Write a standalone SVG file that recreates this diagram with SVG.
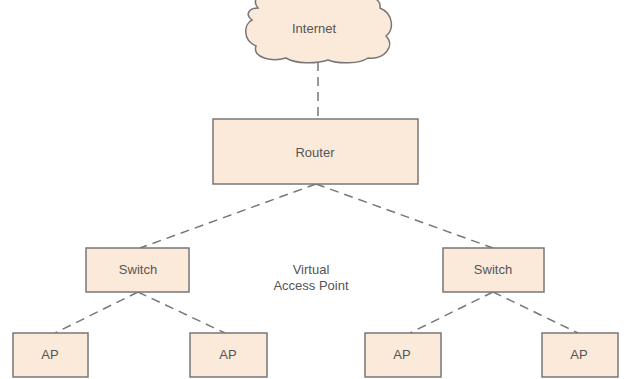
<svg xmlns="http://www.w3.org/2000/svg" width="624" height="379" viewBox="0 0 624 379">
<style>
.box{fill:#fbe9da;stroke:#777;stroke-width:1.5}
.lbl{font-family:"Liberation Sans",Arial,sans-serif;font-size:13px;fill:#555;text-anchor:middle}
.conn{stroke:#777;stroke-width:1.5;stroke-dasharray:9,6;fill:none}
</style>
<rect width="624" height="379" fill="#fff"/>
<g id="connectors">
<line class="conn" x1="318" y1="62" x2="318" y2="119"/>
<line class="conn" x1="316" y1="184" x2="140" y2="248"/>
<line class="conn" x1="316" y1="184" x2="493" y2="248"/>
<line class="conn" x1="138" y1="292" x2="55" y2="333"/>
<line class="conn" x1="138" y1="292" x2="225" y2="333"/>
<line class="conn" x1="493" y1="292" x2="410" y2="333"/>
<line class="conn" x1="493" y1="292" x2="578" y2="333"/>
</g>
<g id="internet">
<path class="box" d="M258,8 C250,-2 262,-8 272,-2 C280,-10 300,-8 306,-2 C316,-9 340,-8 346,-2 C360,-8 382,-4 380,8 C394,14 394,30 386,36 C396,46 384,60 368,58 C360,64 338,64 328,60 C316,64 296,64 286,58 C272,62 252,58 256,46 C242,40 244,24 252,20 C244,14 250,8 258,8 Z"/>
<text class="lbl" x="314" y="33">Internet</text>
</g>
<g id="router">
<rect class="box" x="213" y="119" width="205" height="65"/>
<text class="lbl" x="315" y="157">Router</text>
</g>
<g id="switch1">
<rect class="box" x="86" y="248" width="103" height="44"/>
<text class="lbl" x="138" y="274">Switch</text>
</g>
<g id="switch2">
<rect class="box" x="443" y="248" width="101" height="44"/>
<text class="lbl" x="493" y="274">Switch</text>
</g>
<g id="ap1">
<rect class="box" x="13" y="333" width="75" height="44"/>
<text class="lbl" x="50" y="359">AP</text>
</g>
<g id="ap2">
<rect class="box" x="190" y="333" width="77" height="44"/>
<text class="lbl" x="228" y="359">AP</text>
</g>
<g id="ap3">
<rect class="box" x="365" y="333" width="76" height="44"/>
<text class="lbl" x="402" y="359">AP</text>
</g>
<g id="ap4">
<rect class="box" x="542" y="333" width="76" height="44"/>
<text class="lbl" x="579" y="359">AP</text>
</g>
<g id="vap-label">
<text class="lbl" x="311" y="274">Virtual</text>
<text class="lbl" x="311" y="290">Access Point</text>
</g>
</svg>
